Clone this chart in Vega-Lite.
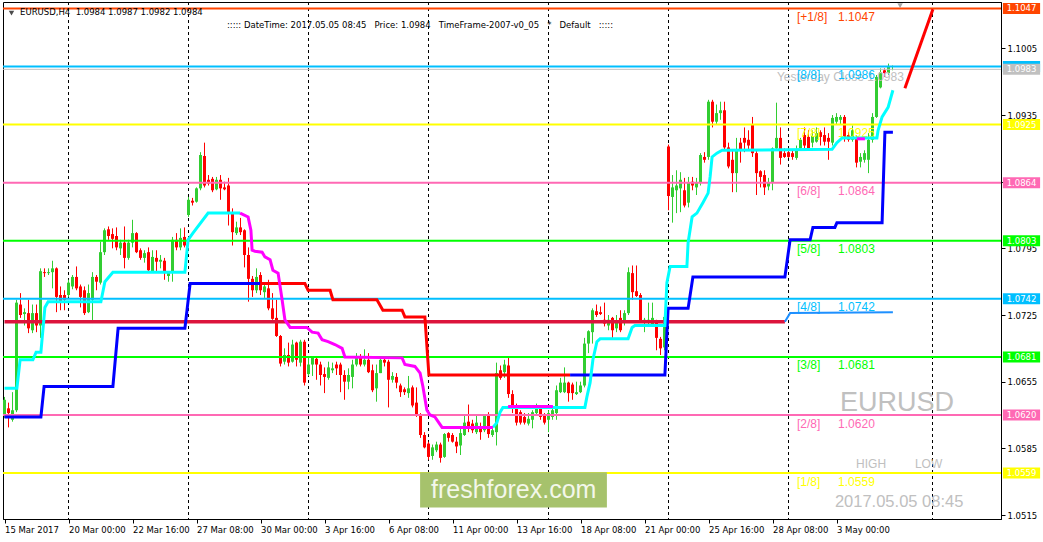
{
"$schema": "https://vega.github.io/schema/vega-lite/v6.json",
"width": 998, "height": 517,
"autosize": {"type": "none"},
"padding": {"left": 3, "top": 2, "right": 42, "bottom": 23},
"background": "#ffffff",
"config": {
  "view": {"stroke": "#000000", "strokeWidth": 1},
  "axis": {"grid": false, "domainColor": "#000000", "tickColor": "#000000", "labelColor": "#000000", "labelFont": "DejaVu Sans", "labelFontSize": 8.5, "tickSize": 4, "title": null},
  "text": {"font": "Liberation Sans"}
},
"datasets": {
  "seps": [{"i":18},{"i":48},{"i":78},{"i":108},{"i":138},{"i":168},{"i":198},{"i":234}],
  "levels": [
    {"k":"[+1/8]","p":1.1047},{"k":"[8/8]","p":1.0986},{"k":"YC","p":1.0983},{"k":"[7/8]","p":1.0925},
    {"k":"[6/8]","p":1.0864},{"k":"[5/8]","p":1.0803},{"k":"[4/8]","p":1.0742},{"k":"[3/8]","p":1.0681},
    {"k":"[2/8]","p":1.0620},{"k":"[1/8]","p":1.0559}],
  "candles": [
{"i":2,"o":1.0620,"h":1.0639,"l":1.0617,"c":1.0636},{"i":3,"o":1.0627,"h":1.0633,"l":1.0607,"c":1.0622},{"i":4,"o":1.0615,"h":1.0644,"l":1.0613,"c":1.0625},{"i":5,"o":1.0625,"h":1.0741,"l":1.0623,"c":1.0738},
{"i":6,"o":1.0736,"h":1.0748,"l":1.0722,"c":1.0725},{"i":7,"o":1.0726,"h":1.0732,"l":1.0714,"c":1.0728},{"i":8,"o":1.0727,"h":1.0741,"l":1.0706,"c":1.0711},{"i":9,"o":1.0709,"h":1.0736,"l":1.0706,"c":1.0727},
{"i":10,"o":1.0727,"h":1.0736,"l":1.0707,"c":1.0714},{"i":11,"o":1.0714,"h":1.0774,"l":1.0701,"c":1.0771},{"i":12,"o":1.0770,"h":1.0774,"l":1.0765,"c":1.0769},{"i":13,"o":1.0769,"h":1.0774,"l":1.0767,"c":1.0770},
{"i":14,"o":1.0770,"h":1.0782,"l":1.0753,"c":1.0774},{"i":15,"o":1.0774,"h":1.0775,"l":1.0728,"c":1.0744},{"i":16,"o":1.0746,"h":1.0755,"l":1.0730,"c":1.0739},{"i":17,"o":1.0746,"h":1.0751,"l":1.0730,"c":1.0741},
{"i":18,"o":1.0746,"h":1.0762,"l":1.0744,"c":1.0759},{"i":19,"o":1.0755,"h":1.0767,"l":1.0752,"c":1.0765},{"i":20,"o":1.0765,"h":1.0776,"l":1.0751,"c":1.0753},{"i":21,"o":1.0755,"h":1.0757,"l":1.0733,"c":1.0744},
{"i":22,"o":1.0751,"h":1.0755,"l":1.0725,"c":1.0727},{"i":23,"o":1.0728,"h":1.0757,"l":1.0727,"c":1.0748},{"i":24,"o":1.0741,"h":1.0770,"l":1.0718,"c":1.0765},{"i":25,"o":1.0765,"h":1.0767,"l":1.0751,"c":1.0760},
{"i":26,"o":1.0759,"h":1.0802,"l":1.0757,"c":1.0791},{"i":27,"o":1.0791,"h":1.0816,"l":1.0788,"c":1.0814},{"i":28,"o":1.0815,"h":1.0818,"l":1.0804,"c":1.0808},{"i":29,"o":1.0810,"h":1.0816,"l":1.0795,"c":1.0805},
{"i":30,"o":1.0808,"h":1.0817,"l":1.0793,"c":1.0796},{"i":31,"o":1.0795,"h":1.0804,"l":1.0788,"c":1.0801},{"i":32,"o":1.0801,"h":1.0818,"l":1.0774,"c":1.0785},{"i":33,"o":1.0785,"h":1.0804,"l":1.0783,"c":1.0801},
{"i":34,"o":1.0801,"h":1.0825,"l":1.0796,"c":1.0811},{"i":35,"o":1.0811,"h":1.0812,"l":1.0790,"c":1.0791},{"i":36,"o":1.0793,"h":1.0795,"l":1.0783,"c":1.0785},{"i":37,"o":1.0785,"h":1.0793,"l":1.0780,"c":1.0790},
{"i":38,"o":1.0791,"h":1.0796,"l":1.0770,"c":1.0772},{"i":39,"o":1.0771,"h":1.0793,"l":1.0770,"c":1.0786},{"i":40,"o":1.0785,"h":1.0793,"l":1.0770,"c":1.0781},{"i":41,"o":1.0781,"h":1.0788,"l":1.0774,"c":1.0783},
{"i":42,"o":1.0782,"h":1.0785,"l":1.0762,"c":1.0769},{"i":43,"o":1.0766,"h":1.0771,"l":1.0760,"c":1.0769},{"i":44,"o":1.0770,"h":1.0807,"l":1.0760,"c":1.0804},{"i":45,"o":1.0804,"h":1.0811,"l":1.0793,"c":1.0796},
{"i":46,"o":1.0796,"h":1.0816,"l":1.0793,"c":1.0806},{"i":47,"o":1.0807,"h":1.0817,"l":1.0796,"c":1.0798},{"i":48,"o":1.0830,"h":1.0849,"l":1.0828,"c":1.0846},{"i":49,"o":1.0845,"h":1.0848,"l":1.0840,"c":1.0843},
{"i":50,"o":1.0844,"h":1.0859,"l":1.0843,"c":1.0858},{"i":51,"o":1.0858,"h":1.0896,"l":1.0856,"c":1.0893},{"i":52,"o":1.0892,"h":1.0906,"l":1.0859,"c":1.0861},{"i":53,"o":1.0867,"h":1.0872,"l":1.0861,"c":1.0863},
{"i":54,"o":1.0868,"h":1.0870,"l":1.0854,"c":1.0856},{"i":55,"o":1.0857,"h":1.0870,"l":1.0856,"c":1.0867},{"i":56,"o":1.0867,"h":1.0872,"l":1.0846,"c":1.0858},{"i":57,"o":1.0859,"h":1.0865,"l":1.0856,"c":1.0857},
{"i":58,"o":1.0861,"h":1.0869,"l":1.0819,"c":1.0832},{"i":59,"o":1.0832,"h":1.0837,"l":1.0798,"c":1.0812},{"i":60,"o":1.0811,"h":1.0823,"l":1.0809,"c":1.0817},{"i":61,"o":1.0817,"h":1.0827,"l":1.0809,"c":1.0812},
{"i":62,"o":1.0814,"h":1.0815,"l":1.0775,"c":1.0788},{"i":63,"o":1.0788,"h":1.0796,"l":1.0739,"c":1.0763},{"i":64,"o":1.0763,"h":1.0766,"l":1.0744,"c":1.0751},{"i":65,"o":1.0751,"h":1.0774,"l":1.0748,"c":1.0765},
{"i":66,"o":1.0767,"h":1.0770,"l":1.0746,"c":1.0751},{"i":67,"o":1.0749,"h":1.0757,"l":1.0743,"c":1.0755},{"i":68,"o":1.0753,"h":1.0762,"l":1.0730,"c":1.0732},{"i":69,"o":1.0732,"h":1.0748,"l":1.0720,"c":1.0721},
{"i":70,"o":1.0722,"h":1.0741,"l":1.0702,"c":1.0703},{"i":71,"o":1.0703,"h":1.0704,"l":1.0671,"c":1.0674},{"i":72,"o":1.0676,"h":1.0690,"l":1.0673,"c":1.0683},{"i":73,"o":1.0683,"h":1.0696,"l":1.0671,"c":1.0675},
{"i":74,"o":1.0676,"h":1.0699,"l":1.0675,"c":1.0694},{"i":75,"o":1.0696,"h":1.0697,"l":1.0671,"c":1.0678},{"i":76,"o":1.0675,"h":1.0699,"l":1.0671,"c":1.0697},{"i":77,"o":1.0697,"h":1.0699,"l":1.0651,"c":1.0654},
{"i":78,"o":1.0663,"h":1.0680,"l":1.0661,"c":1.0673},{"i":79,"o":1.0673,"h":1.0681,"l":1.0661,"c":1.0680},{"i":80,"o":1.0679,"h":1.0681,"l":1.0657,"c":1.0673},{"i":81,"o":1.0673,"h":1.0676,"l":1.0651,"c":1.0662},
{"i":82,"o":1.0663,"h":1.0670,"l":1.0643,"c":1.0660},{"i":83,"o":1.0659,"h":1.0676,"l":1.0657,"c":1.0670},{"i":84,"o":1.0667,"h":1.0675,"l":1.0664,"c":1.0669},{"i":85,"o":1.0673,"h":1.0676,"l":1.0662,"c":1.0669},
{"i":86,"o":1.0673,"h":1.0675,"l":1.0644,"c":1.0662},{"i":87,"o":1.0662,"h":1.0667,"l":1.0636,"c":1.0655},{"i":88,"o":1.0655,"h":1.0669,"l":1.0647,"c":1.0662},{"i":89,"o":1.0660,"h":1.0678,"l":1.0648,"c":1.0673},
{"i":90,"o":1.0673,"h":1.0685,"l":1.0671,"c":1.0681},{"i":91,"o":1.0680,"h":1.0684,"l":1.0671,"c":1.0673},{"i":92,"o":1.0673,"h":1.0689,"l":1.0671,"c":1.0678},{"i":93,"o":1.0678,"h":1.0685,"l":1.0664,"c":1.0665},
{"i":94,"o":1.0667,"h":1.0673,"l":1.0644,"c":1.0646},{"i":95,"o":1.0648,"h":1.0673,"l":1.0634,"c":1.0664},{"i":96,"o":1.0664,"h":1.0680,"l":1.0664,"c":1.0678},{"i":97,"o":1.0678,"h":1.0680,"l":1.0671,"c":1.0675},
{"i":98,"o":1.0676,"h":1.0678,"l":1.0628,"c":1.0657},{"i":99,"o":1.0657,"h":1.0665,"l":1.0654,"c":1.0661},{"i":100,"o":1.0660,"h":1.0664,"l":1.0648,"c":1.0654},{"i":101,"o":1.0651,"h":1.0653,"l":1.0639,"c":1.0644},
{"i":102,"o":1.0647,"h":1.0649,"l":1.0641,"c":1.0644},{"i":103,"o":1.0643,"h":1.0661,"l":1.0638,"c":1.0648},{"i":104,"o":1.0649,"h":1.0651,"l":1.0628,"c":1.0630},{"i":105,"o":1.0633,"h":1.0649,"l":1.0618,"c":1.0620},
{"i":106,"o":1.0620,"h":1.0622,"l":1.0596,"c":1.0599},{"i":107,"o":1.0599,"h":1.0602,"l":1.0585,"c":1.0586},{"i":108,"o":1.0590,"h":1.0592,"l":1.0573,"c":1.0576},{"i":109,"o":1.0577,"h":1.0589,"l":1.0573,"c":1.0586},
{"i":110,"o":1.0583,"h":1.0592,"l":1.0581,"c":1.0589},{"i":111,"o":1.0589,"h":1.0591,"l":1.0570,"c":1.0575},{"i":112,"o":1.0576,"h":1.0601,"l":1.0575,"c":1.0600},{"i":113,"o":1.0601,"h":1.0602,"l":1.0592,"c":1.0596},
{"i":114,"o":1.0599,"h":1.0601,"l":1.0591,"c":1.0592},{"i":115,"o":1.0592,"h":1.0597,"l":1.0580,"c":1.0587},{"i":116,"o":1.0588,"h":1.0606,"l":1.0578,"c":1.0601},{"i":117,"o":1.0599,"h":1.0620,"l":1.0598,"c":1.0612},
{"i":118,"o":1.0613,"h":1.0631,"l":1.0602,"c":1.0608},{"i":119,"o":1.0611,"h":1.0615,"l":1.0601,"c":1.0604},{"i":120,"o":1.0602,"h":1.0621,"l":1.0600,"c":1.0612},{"i":121,"o":1.0608,"h":1.0612,"l":1.0594,"c":1.0602},
{"i":122,"o":1.0604,"h":1.0620,"l":1.0602,"c":1.0619},{"i":123,"o":1.0621,"h":1.0623,"l":1.0596,"c":1.0600},{"i":124,"o":1.0599,"h":1.0607,"l":1.0597,"c":1.0604},{"i":125,"o":1.0602,"h":1.0675,"l":1.0588,"c":1.0664},
{"i":126,"o":1.0667,"h":1.0672,"l":1.0657,"c":1.0659},{"i":127,"o":1.0665,"h":1.0678,"l":1.0659,"c":1.0673},{"i":128,"o":1.0672,"h":1.0680,"l":1.0638,"c":1.0642},{"i":129,"o":1.0642,"h":1.0646,"l":1.0622,"c":1.0627},
{"i":130,"o":1.0627,"h":1.0632,"l":1.0609,"c":1.0612},{"i":131,"o":1.0623,"h":1.0625,"l":1.0610,"c":1.0612},{"i":132,"o":1.0618,"h":1.0622,"l":1.0610,"c":1.0612},{"i":133,"o":1.0611,"h":1.0622,"l":1.0609,"c":1.0616},
{"i":134,"o":1.0615,"h":1.0625,"l":1.0606,"c":1.0623},{"i":135,"o":1.0622,"h":1.0632,"l":1.0620,"c":1.0630},{"i":136,"o":1.0629,"h":1.0630,"l":1.0615,"c":1.0618},{"i":137,"o":1.0620,"h":1.0622,"l":1.0610,"c":1.0612},
{"i":138,"o":1.0615,"h":1.0625,"l":1.0602,"c":1.0622},{"i":139,"o":1.0618,"h":1.0628,"l":1.0615,"c":1.0625},{"i":140,"o":1.0622,"h":1.0651,"l":1.0615,"c":1.0646},{"i":141,"o":1.0644,"h":1.0659,"l":1.0643,"c":1.0654},
{"i":142,"o":1.0644,"h":1.0670,"l":1.0643,"c":1.0654},{"i":143,"o":1.0654,"h":1.0655,"l":1.0634,"c":1.0643},{"i":144,"o":1.0652,"h":1.0654,"l":1.0636,"c":1.0643},{"i":145,"o":1.0642,"h":1.0655,"l":1.0641,"c":1.0644},
{"i":146,"o":1.0644,"h":1.0655,"l":1.0643,"c":1.0651},{"i":147,"o":1.0651,"h":1.0701,"l":1.0649,"c":1.0695},{"i":148,"o":1.0695,"h":1.0709,"l":1.0685,"c":1.0708},{"i":149,"o":1.0707,"h":1.0732,"l":1.0695,"c":1.0730},
{"i":150,"o":1.0729,"h":1.0736,"l":1.0723,"c":1.0725},{"i":151,"o":1.0728,"h":1.0734,"l":1.0725,"c":1.0726},{"i":152,"o":1.0720,"h":1.0738,"l":1.0713,"c":1.0716},{"i":153,"o":1.0714,"h":1.0725,"l":1.0709,"c":1.0720},
{"i":154,"o":1.0722,"h":1.0723,"l":1.0701,"c":1.0709},{"i":155,"o":1.0711,"h":1.0725,"l":1.0707,"c":1.0718},{"i":156,"o":1.0722,"h":1.0730,"l":1.0707,"c":1.0709},{"i":157,"o":1.0718,"h":1.0730,"l":1.0714,"c":1.0727},
{"i":158,"o":1.0727,"h":1.0775,"l":1.0725,"c":1.0770},{"i":159,"o":1.0769,"h":1.0777,"l":1.0741,"c":1.0749},{"i":160,"o":1.0750,"h":1.0777,"l":1.0744,"c":1.0745},{"i":161,"o":1.0746,"h":1.0748,"l":1.0717,"c":1.0718},
{"i":162,"o":1.0717,"h":1.0722,"l":1.0707,"c":1.0720},{"i":163,"o":1.0717,"h":1.0738,"l":1.0713,"c":1.0720},{"i":164,"o":1.0713,"h":1.0738,"l":1.0713,"c":1.0722},{"i":165,"o":1.0718,"h":1.0720,"l":1.0688,"c":1.0701},
{"i":166,"o":1.0700,"h":1.0702,"l":1.0683,"c":1.0690},{"i":167,"o":1.0691,"h":1.0725,"l":1.0688,"c":1.0723},{"i":168,"o":1.0902,"h":1.0904,"l":1.0835,"c":1.0850},{"i":169,"o":1.0849,"h":1.0872,"l":1.0822,"c":1.0859},
{"i":170,"o":1.0856,"h":1.0877,"l":1.0832,"c":1.0861},{"i":171,"o":1.0858,"h":1.0875,"l":1.0833,"c":1.0867},{"i":172,"o":1.0856,"h":1.0869,"l":1.0838,"c":1.0840},{"i":173,"o":1.0843,"h":1.0870,"l":1.0838,"c":1.0864},
{"i":174,"o":1.0865,"h":1.0870,"l":1.0856,"c":1.0861},{"i":175,"o":1.0859,"h":1.0869,"l":1.0851,"c":1.0864},{"i":176,"o":1.0864,"h":1.0895,"l":1.0861,"c":1.0893},{"i":177,"o":1.0891,"h":1.0896,"l":1.0885,"c":1.0888},
{"i":178,"o":1.0891,"h":1.0951,"l":1.0888,"c":1.0949},{"i":179,"o":1.0949,"h":1.0951,"l":1.0922,"c":1.0928},{"i":180,"o":1.0928,"h":1.0946,"l":1.0925,"c":1.0937},{"i":181,"o":1.0937,"h":1.0949,"l":1.0930,"c":1.0940},
{"i":182,"o":1.0940,"h":1.0949,"l":1.0898,"c":1.0901},{"i":183,"o":1.0901,"h":1.0906,"l":1.0879,"c":1.0881},{"i":184,"o":1.0888,"h":1.0898,"l":1.0854,"c":1.0874},{"i":185,"o":1.0874,"h":1.0911,"l":1.0854,"c":1.0898},
{"i":186,"o":1.0906,"h":1.0911,"l":1.0885,"c":1.0898},{"i":187,"o":1.0911,"h":1.0922,"l":1.0896,"c":1.0906},{"i":188,"o":1.0909,"h":1.0919,"l":1.0898,"c":1.0903},{"i":189,"o":1.0925,"h":1.0933,"l":1.0891,"c":1.0895},
{"i":190,"o":1.0895,"h":1.0898,"l":1.0851,"c":1.0874},{"i":191,"o":1.0876,"h":1.0877,"l":1.0859,"c":1.0870},{"i":192,"o":1.0872,"h":1.0877,"l":1.0851,"c":1.0859},{"i":193,"o":1.0860,"h":1.0869,"l":1.0856,"c":1.0864},
{"i":194,"o":1.0864,"h":1.0901,"l":1.0856,"c":1.0900},{"i":195,"o":1.0900,"h":1.0948,"l":1.0898,"c":1.0911},{"i":196,"o":1.0911,"h":1.0922,"l":1.0883,"c":1.0890},{"i":197,"o":1.0895,"h":1.0900,"l":1.0890,"c":1.0891},
{"i":198,"o":1.0896,"h":1.0900,"l":1.0890,"c":1.0891},{"i":199,"o":1.0895,"h":1.0898,"l":1.0888,"c":1.0891},{"i":200,"o":1.0890,"h":1.0903,"l":1.0888,"c":1.0898},{"i":201,"o":1.0900,"h":1.0911,"l":1.0898,"c":1.0909},
{"i":202,"o":1.0914,"h":1.0922,"l":1.0900,"c":1.0903},{"i":203,"o":1.0912,"h":1.0919,"l":1.0898,"c":1.0900},{"i":204,"o":1.0906,"h":1.0919,"l":1.0901,"c":1.0913},{"i":205,"o":1.0907,"h":1.0922,"l":1.0906,"c":1.0916},
{"i":206,"o":1.0917,"h":1.0919,"l":1.0903,"c":1.0912},{"i":207,"o":1.0914,"h":1.0922,"l":1.0903,"c":1.0907},{"i":208,"o":1.0911,"h":1.0916,"l":1.0888,"c":1.0907},{"i":209,"o":1.0906,"h":1.0935,"l":1.0903,"c":1.0932},
{"i":210,"o":1.0928,"h":1.0937,"l":1.0925,"c":1.0933},{"i":211,"o":1.0930,"h":1.0935,"l":1.0925,"c":1.0933},{"i":212,"o":1.0933,"h":1.0935,"l":1.0907,"c":1.0911},{"i":213,"o":1.0914,"h":1.0917,"l":1.0907,"c":1.0909},
{"i":214,"o":1.0909,"h":1.0924,"l":1.0907,"c":1.0919},{"i":215,"o":1.0911,"h":1.0914,"l":1.0880,"c":1.0885},{"i":216,"o":1.0886,"h":1.0895,"l":1.0880,"c":1.0891},{"i":217,"o":1.0888,"h":1.0898,"l":1.0885,"c":1.0895},
{"i":218,"o":1.0888,"h":1.0916,"l":1.0874,"c":1.0909},{"i":219,"o":1.0909,"h":1.0937,"l":1.0906,"c":1.0933},{"i":220,"o":1.0933,"h":1.0977,"l":1.0932,"c":1.0975},{"i":221,"o":1.0964,"h":1.0984,"l":1.0963,"c":1.0980},
{"i":222,"o":1.0982,"h":1.0984,"l":1.0975,"c":1.0979},{"i":223,"o":1.0979,"h":1.0989,"l":1.0977,"c":1.0986},{"i":224,"o":1.0984,"h":1.0987,"l":1.0982,"c":1.0984}
  ],
  "ind": [
{"s":"blue","g":1,"i":2,"p":1.0618},{"s":"blue","g":1,"i":11.1,"p":1.0618},{"s":"blue","g":1,"i":11.9,"p":1.0650},{"s":"blue","g":1,"i":29.1,"p":1.0650},{"s":"blue","g":1,"i":30.4,"p":1.0711},{"s":"blue","g":1,"i":47.1,"p":1.0711},{"s":"blue","g":1,"i":48.4,"p":1.0758},{"s":"blue","g":1,"i":65.9,"p":1.0758},
{"s":"red","g":2,"i":65.9,"p":1.0758},{"s":"red","g":2,"i":77.1,"p":1.0758},{"s":"red","g":2,"i":77.9,"p":1.0751},{"s":"red","g":2,"i":83.4,"p":1.0751},{"s":"red","g":2,"i":84.1,"p":1.0741},{"s":"red","g":2,"i":95.1,"p":1.0741},{"s":"red","g":2,"i":96.6,"p":1.0730},{"s":"red","g":2,"i":101.4,"p":1.0730},{"s":"red","g":2,"i":102.1,"p":1.0723},{"s":"red","g":2,"i":107.1,"p":1.0723},{"s":"red","g":2,"i":108.1,"p":1.0662},{"s":"red","g":2,"i":143.4,"p":1.0662},
{"s":"blue","g":3,"i":143.4,"p":1.0662},{"s":"blue","g":3,"i":167.1,"p":1.0662},{"s":"blue","g":3,"i":167.9,"p":1.0732},{"s":"blue","g":3,"i":172.9,"p":1.0732},{"s":"blue","g":3,"i":174.1,"p":1.0765},{"s":"blue","g":3,"i":197.1,"p":1.0765},{"s":"blue","g":3,"i":198.4,"p":1.0804},{"s":"blue","g":3,"i":203.4,"p":1.0804},{"s":"blue","g":3,"i":204.1,"p":1.0817},{"s":"blue","g":3,"i":209.6,"p":1.0817},{"s":"blue","g":3,"i":210.1,"p":1.0822},{"s":"blue","g":3,"i":221.4,"p":1.0822},{"s":"blue","g":3,"i":222.1,"p":1.0917},{"s":"blue","g":3,"i":224.1,"p":1.0917},
{"s":"crimson","g":4,"i":2,"p":1.0718},{"s":"crimson","g":4,"i":197.1,"p":1.0718},
{"s":"dodger","g":5,"i":197.1,"p":1.0718},{"s":"dodger","g":5,"i":198.4,"p":1.0727},{"s":"dodger","g":5,"i":224.1,"p":1.0728},
{"s":"cyan","g":6,"i":2,"p":1.0648},{"s":"cyan","g":6,"i":5.1,"p":1.0648},{"s":"cyan","g":6,"i":5.9,"p":1.0678},{"s":"cyan","g":6,"i":9.1,"p":1.0678},{"s":"cyan","g":6,"i":9.9,"p":1.0686},{"s":"cyan","g":6,"i":11.1,"p":1.0686},{"s":"cyan","g":6,"i":12.1,"p":1.0733},{"s":"cyan","g":6,"i":12.9,"p":1.0739},{"s":"cyan","g":6,"i":26.1,"p":1.0739},{"s":"cyan","g":6,"i":27.1,"p":1.0760},{"s":"cyan","g":6,"i":29.1,"p":1.0770},{"s":"cyan","g":6,"i":47.1,"p":1.0770},{"s":"cyan","g":6,"i":47.9,"p":1.0804},{"s":"cyan","g":6,"i":49.1,"p":1.0811},{"s":"cyan","g":6,"i":52.9,"p":1.0832},{"s":"cyan","g":6,"i":60.9,"p":1.0832},
{"s":"cyan","g":7,"i":124.1,"p":1.0607},{"s":"cyan","g":7,"i":125.1,"p":1.0612},{"s":"cyan","g":7,"i":125.9,"p":1.0623},{"s":"cyan","g":7,"i":126.6,"p":1.0628},{"s":"cyan","g":7,"i":147.1,"p":1.0628},{"s":"cyan","g":7,"i":147.6,"p":1.0639},{"s":"cyan","g":7,"i":148.4,"p":1.0654},{"s":"cyan","g":7,"i":149.1,"p":1.0678},{"s":"cyan","g":7,"i":150.1,"p":1.0697},{"s":"cyan","g":7,"i":150.9,"p":1.0700},{"s":"cyan","g":7,"i":157.9,"p":1.0700},{"s":"cyan","g":7,"i":158.9,"p":1.0712},{"s":"cyan","g":7,"i":159.6,"p":1.0714},{"s":"cyan","g":7,"i":167.1,"p":1.0714},{"s":"cyan","g":7,"i":167.6,"p":1.0759},{"s":"cyan","g":7,"i":168.4,"p":1.0776},{"s":"cyan","g":7,"i":172.6,"p":1.0776},{"s":"cyan","g":7,"i":172.9,"p":1.0801},{"s":"cyan","g":7,"i":173.9,"p":1.0828},{"s":"cyan","g":7,"i":175.1,"p":1.0832},{"s":"cyan","g":7,"i":176.6,"p":1.0843},{"s":"cyan","g":7,"i":177.9,"p":1.0853},{"s":"cyan","g":7,"i":178.4,"p":1.0870},{"s":"cyan","g":7,"i":178.9,"p":1.0891},{"s":"cyan","g":7,"i":180.1,"p":1.0895},{"s":"cyan","g":7,"i":181.4,"p":1.0898},{"s":"cyan","g":7,"i":208.9,"p":1.0899},{"s":"cyan","g":7,"i":210.1,"p":1.0906},{"s":"cyan","g":7,"i":211.4,"p":1.0911},{"s":"cyan","g":7,"i":220.1,"p":1.0911},{"s":"cyan","g":7,"i":220.4,"p":1.0919},{"s":"cyan","g":7,"i":221.4,"p":1.0933},{"s":"cyan","g":7,"i":222.9,"p":1.0943},{"s":"cyan","g":7,"i":224.1,"p":1.0961},
{"s":"magenta","g":8,"i":60.9,"p":1.0832},{"s":"magenta","g":8,"i":62.9,"p":1.0828},{"s":"magenta","g":8,"i":63.6,"p":1.0814},{"s":"magenta","g":8,"i":63.9,"p":1.0793},{"s":"magenta","g":8,"i":64.6,"p":1.0792},{"s":"magenta","g":8,"i":66.4,"p":1.0791},{"s":"magenta","g":8,"i":67.1,"p":1.0786},{"s":"magenta","g":8,"i":68.4,"p":1.0783},{"s":"magenta","g":8,"i":69.1,"p":1.0772},{"s":"magenta","g":8,"i":70.4,"p":1.0769},{"s":"magenta","g":8,"i":71.4,"p":1.0741},{"s":"magenta","g":8,"i":72.1,"p":1.0720},{"s":"magenta","g":8,"i":73.4,"p":1.0712},{"s":"magenta","g":8,"i":77.6,"p":1.0712},{"s":"magenta","g":8,"i":78.9,"p":1.0707},{"s":"magenta","g":8,"i":80.4,"p":1.0706},{"s":"magenta","g":8,"i":81.4,"p":1.0699},{"s":"magenta","g":8,"i":82.9,"p":1.0697},{"s":"magenta","g":8,"i":84.6,"p":1.0694},{"s":"magenta","g":8,"i":86.4,"p":1.0690},{"s":"magenta","g":8,"i":87.1,"p":1.0681},{"s":"magenta","g":8,"i":101.4,"p":1.0680},{"s":"magenta","g":8,"i":102.1,"p":1.0673},{"s":"magenta","g":8,"i":104.6,"p":1.0671},{"s":"magenta","g":8,"i":105.9,"p":1.0664},{"s":"magenta","g":8,"i":106.6,"p":1.0650},{"s":"magenta","g":8,"i":107.6,"p":1.0625},{"s":"magenta","g":8,"i":108.4,"p":1.0620},{"s":"magenta","g":8,"i":109.6,"p":1.0618},{"s":"magenta","g":8,"i":111.4,"p":1.0607},{"s":"magenta","g":8,"i":124.1,"p":1.0607},
{"s":"magenta","g":9,"i":127.9,"p":1.0629},{"s":"magenta","g":9,"i":139.1,"p":1.0629},
{"s":"magenta","g":10,"i":215.1,"p":1.0910},{"s":"magenta","g":10,"i":217.1,"p":1.0910},
{"s":"proj","g":11,"i":227.1,"p":1.0963},{"s":"proj","g":11,"i":234.1,"p":1.1046}
  ]
},
"layer": [
  {"data": {"name": "seps"}, "mark": {"type": "rule", "color": "#000000", "strokeWidth": 1, "strokeDash": [3, 3]},
   "encoding": {"x": {"field": "i", "type": "quantitative", "scale": {"domain": [1.625, 251.125], "nice": false, "zero": false, "padding": 0},
     "axis": {"orient": "bottom", "values": [2,18,34,50,66,82,98,114,130,146,162,178,194,210],
       "labelExpr": "{'2':'15 Mar 2017','18':'20 Mar 00:00','34':'22 Mar 16:00','50':'27 Mar 08:00','66':'30 Mar 00:00','82':'3 Apr 16:00','98':'6 Apr 08:00','114':'11 Apr 00:00','130':'13 Apr 16:00','146':'18 Apr 08:00','162':'21 Apr 00:00','178':'25 Apr 16:00','194':'28 Apr 08:00','210':'3 May 00:00'}[datum.value]",
       "labelAlign": "left", "labelBaseline": "top", "labelPadding": 2, "labelFlush": false, "labelOverlap": false}}}},
  {"data": {"name": "candles"}, "mark": {"type": "rule", "strokeWidth": 1},
   "encoding": {"x": {"field": "i", "type": "quantitative"},
     "y": {"field": "l", "type": "quantitative", "scale": {"domain": [1.05108, 1.10537], "nice": false, "zero": false, "padding": 0},
       "axis": {"orient": "right", "values": [1.0515,1.055,1.0585,1.062,1.0655,1.069,1.0725,1.076,1.0795,1.083,1.0865,1.09,1.0935,1.097,1.1005,1.104], "format": ".4f", "labelPadding": 2, "labelOverlap": false, "labelFlush": false}},
     "y2": {"field": "h"},
     "color": {"condition": {"test": "datum.c >= datum.o", "value": "#32CD32"}, "value": "#FF0000"}}},
  {"data": {"name": "candles"}, "mark": {"type": "bar", "size": 3},
   "encoding": {"x": {"field": "i", "type": "quantitative"}, "y": {"field": "o", "type": "quantitative"}, "y2": {"field": "c"},
     "color": {"condition": {"test": "datum.c >= datum.o", "value": "#32CD32"}, "value": "#FF0000"}}},
  {"data": {"name": "levels"}, "mark": {"type": "rule"},
   "encoding": {"y": {"field": "p", "type": "quantitative"},
     "color": {"field": "k", "type": "nominal", "legend": null, "scale": {"domain": ["[+1/8]","[8/8]","YC","[7/8]","[6/8]","[5/8]","[4/8]","[3/8]","[2/8]","[1/8]"], "range": ["#FF4500","#00BFFF","#C0C0C0","#FFFF00","#FF69B4","#00FF00","#00BFFF","#00FF00","#FF69B4","#FFFF00"]}},
     "strokeWidth": {"condition": {"test": "datum.k == 'YC'", "value": 1}, "value": 2}}},
  {"data": {"values": [{"t": "Yesterday Close  1.0983"}]}, "mark": {"type": "text", "align": "left", "baseline": "middle", "dy": 8, "fontSize": 12, "color": "#C0C0C0"},
   "encoding": {"x": {"datum": 195.1, "type": "quantitative"}, "y": {"datum": 1.0983, "type": "quantitative"}, "text": {"field": "t"}}},
  {"data": {"name": "levels"}, "transform": [{"filter": "datum.k != 'YC'"}], "mark": {"type": "text", "align": "left", "baseline": "middle", "dy": 8.5, "fontSize": 12},
   "encoding": {"x": {"datum": 200.1, "type": "quantitative"}, "y": {"field": "p", "type": "quantitative"}, "text": {"field": "k"}, "color": {"field": "k", "type": "nominal", "legend": null}}},
  {"data": {"name": "levels"}, "transform": [{"filter": "datum.k != 'YC'"}], "mark": {"type": "text", "align": "left", "baseline": "middle", "dy": 8.5, "fontSize": 12},
   "encoding": {"x": {"datum": 210.4, "type": "quantitative"}, "y": {"field": "p", "type": "quantitative"}, "text": {"field": "p", "type": "quantitative", "format": ".4f"}, "color": {"field": "k", "type": "nominal", "legend": null}}},
  {"data": {"name": "ind"}, "transform": [{"filter": "datum.s == 'crimson'"}], "mark": {"type": "line", "color": "#DC143C", "strokeWidth": 3.5},
   "encoding": {"x": {"field": "i", "type": "quantitative"}, "y": {"field": "p", "type": "quantitative"}, "detail": {"field": "g"}}},
  {"data": {"name": "ind"}, "transform": [{"filter": "datum.s == 'dodger'"}], "mark": {"type": "line", "color": "#1E90FF", "strokeWidth": 2},
   "encoding": {"x": {"field": "i", "type": "quantitative"}, "y": {"field": "p", "type": "quantitative"}, "detail": {"field": "g"}}},
  {"data": {"name": "ind"}, "transform": [{"filter": "datum.s == 'red'"}], "mark": {"type": "line", "color": "#FF0000", "strokeWidth": 3},
   "encoding": {"x": {"field": "i", "type": "quantitative"}, "y": {"field": "p", "type": "quantitative"}, "detail": {"field": "g"}}},
  {"data": {"name": "ind"}, "transform": [{"filter": "datum.s == 'blue'"}], "mark": {"type": "line", "color": "#0000FF", "strokeWidth": 3},
   "encoding": {"x": {"field": "i", "type": "quantitative"}, "y": {"field": "p", "type": "quantitative"}, "detail": {"field": "g"}}},
  {"data": {"name": "ind"}, "transform": [{"filter": "datum.s == 'cyan'"}], "mark": {"type": "line", "color": "#00FFFF", "strokeWidth": 3},
   "encoding": {"x": {"field": "i", "type": "quantitative"}, "y": {"field": "p", "type": "quantitative"}, "detail": {"field": "g"}}},
  {"data": {"name": "ind"}, "transform": [{"filter": "datum.s == 'magenta'"}], "mark": {"type": "line", "color": "#FF00FF", "strokeWidth": 3},
   "encoding": {"x": {"field": "i", "type": "quantitative"}, "y": {"field": "p", "type": "quantitative"}, "detail": {"field": "g"}}},
  {"data": {"name": "ind"}, "transform": [{"filter": "datum.s == 'proj'"}], "mark": {"type": "line", "color": "#FF0000", "strokeWidth": 3},
   "encoding": {"x": {"field": "i", "type": "quantitative"}, "y": {"field": "p", "type": "quantitative"}, "detail": {"field": "g"}}},
  {"data": {"name": "levels"}, "mark": {"type": "bar", "orient": "horizontal", "size": 11},
   "encoding": {"x": {"datum": 251.6, "type": "quantitative"}, "x2": {"datum": 260.9}, "y": {"field": "p", "type": "quantitative"}, "color": {"field": "k", "type": "nominal", "legend": null}}},
  {"data": {"name": "levels"}, "transform": [{"filter": "datum.k != '[8/8]'"}], "mark": {"type": "text", "align": "center", "baseline": "middle", "font": "DejaVu Sans", "fontSize": 8.5, "color": "#FFFFFF"},
   "encoding": {"x": {"datum": 256.25, "type": "quantitative"}, "y": {"field": "p", "type": "quantitative"}, "text": {"field": "p", "type": "quantitative", "format": ".4f"}}},
  {"data": {"values": [{"t": "EURUSD"}]}, "mark": {"type": "text", "align": "left", "baseline": "middle", "fontSize": 27, "color": "#C0C0C0"},
   "encoding": {"x": {"datum": 210.9, "type": "quantitative"}, "y": {"datum": 1.0633, "type": "quantitative"}, "text": {"field": "t"}}},
  {"data": {"values": [{"t": "HIGH"}]}, "mark": {"type": "text", "align": "left", "baseline": "middle", "fontSize": 12, "color": "#C0C0C0"},
   "encoding": {"x": {"datum": 214.9, "type": "quantitative"}, "y": {"datum": 1.0569, "type": "quantitative"}, "text": {"field": "t"}}},
  {"data": {"values": [{"t": "LOW"}]}, "mark": {"type": "text", "align": "left", "baseline": "middle", "fontSize": 12, "color": "#C0C0C0"},
   "encoding": {"x": {"datum": 229.6, "type": "quantitative"}, "y": {"datum": 1.0569, "type": "quantitative"}, "text": {"field": "t"}}},
  {"data": {"values": [{"t": "2017.05.05 08:45"}]}, "mark": {"type": "text", "align": "left", "baseline": "middle", "fontSize": 16.5, "color": "#C0C0C0"},
   "encoding": {"x": {"datum": 209.6, "type": "quantitative"}, "y": {"datum": 1.0529, "type": "quantitative"}, "text": {"field": "t"}}},
  {"data": {"values": [{"t": "freshforex.com"}]}, "mark": {"type": "rect", "color": "#a6c26c"},
   "encoding": {"x": {"datum": 105.9, "type": "quantitative"}, "x2": {"datum": 152.6}, "y": {"datum": 1.0560, "type": "quantitative"}, "y2": {"datum": 1.0523}}},
  {"data": {"values": [{"t": "freshforex.com"}]}, "mark": {"type": "text", "align": "center", "baseline": "alphabetic", "fontSize": 25, "color": "#f3f7ea"},
   "encoding": {"x": {"datum": 129.3, "type": "quantitative"}, "y": {"datum": 1.0533, "type": "quantitative"}, "text": {"field": "t"}}},
  {"data": {"values": [{"t": "EURUSD,H4\u00a0\u00a01.0984 1.0987 1.0982 1.0984"}]}, "mark": {"type": "text", "align": "left", "baseline": "middle", "font": "DejaVu Sans", "fontSize": 8.5, "color": "#000000"},
   "encoding": {"x": {"datum": 5.9, "type": "quantitative"}, "y": {"datum": 1.1043, "type": "quantitative"}, "text": {"field": "t"}}},
  {"data": {"values": [{"t": "::::: DateTime: 2017.05.05 08:45\u00a0\u00a0\u00a0Price: 1.0984\u00a0\u00a0\u00a0TimeFrame-2007-v0_05\u00a0\u00a0\u00a0*\u00a0\u00a0\u00a0Default\u00a0\u00a0\u00a0:::::"}]}, "mark": {"type": "text", "align": "left", "baseline": "middle", "font": "DejaVu Sans", "fontSize": 8.5, "color": "#000000"},
   "encoding": {"x": {"datum": 57.6, "type": "quantitative"}, "y": {"datum": 1.1030, "type": "quantitative"}, "text": {"field": "t"}}},
  {"data": {"values": [{"t": "arrow"}]}, "mark": {"type": "point", "shape": "triangle-down", "filled": true, "size": 30, "color": "#000000"},
   "encoding": {"x": {"datum": 3.75, "type": "quantitative"}, "y": {"datum": 1.1042, "type": "quantitative"}}},
  {"data": {"values": [{"t": "shift"}]}, "mark": {"type": "point", "shape": "triangle-down", "filled": true, "size": 30, "color": "#808080"},
   "encoding": {"x": {"datum": 225.9, "type": "quantitative"}, "y": {"datum": 1.1050, "type": "quantitative"}}}
]
}
